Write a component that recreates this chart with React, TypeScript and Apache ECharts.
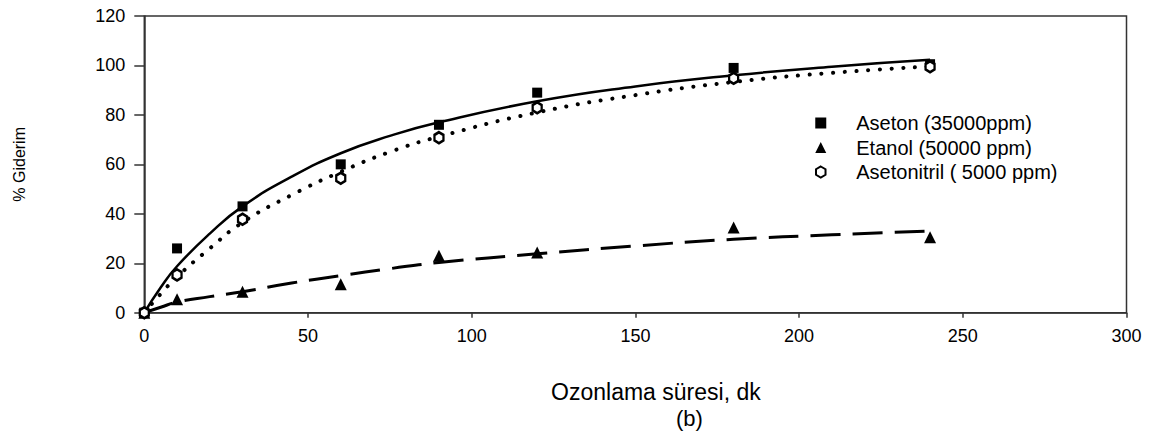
import React, { useEffect, useRef } from "react";
import * as echarts from "echarts";

// Measured data (ozonation time in minutes, % removal)
const timeMin = [0, 10, 30, 60, 90, 120, 180, 240];
const asetonPct = [0, 26, 43, 60, 76, 89, 99, 100.5];
const etanolPct = [0, 5.4, 8.5, 11.5, 23, 24.3, 34.5, 30.5];
const asetonitrilPct = [0, 15.3, 37.8, 54.4, 70.8, 82.9, 94.8, 99.5];

// Trend lines
const trendX = [0, 5, 10, 20, 30, 45, 60, 75, 90, 120, 150, 180, 210, 240];
const asetonFit = [0, 10.2, 18.8, 32, 43, 55, 64.5, 71.5, 77, 85.5, 91.5, 96, 99.5, 102.3];
const asetonitrilFit = [0, 7.6, 14.5, 26, 36.5, 47.6, 57, 65, 71.2, 81, 88, 93.3, 97, 99.6];
const etanolFit = [0, 2.2, 4.3, 6.5, 8.5, 12, 15, 17.8, 20.3, 23.8, 27, 29.7, 31.5, 33];

const seriesNames = ["Aseton (35000ppm)", "Etanol (50000 ppm)", "Asetonitril ( 5000 ppm)"];
const xTicks = { min: 0, max: 300, interval: 50 };
const yTicks = { min: 0, max: 120, interval: 20 };

const HEX = "path://M0,-1 L0.866,-0.5 L0.866,0.5 L0,1 L-0.866,0.5 L-0.866,-0.5 Z";
const FONT = "Liberation Sans, Arial, sans-serif";

const pair = (xs: number[], ys: number[]) => xs.map((x, i) => [x, ys[i]]);

export default function App() {
  const ref = useRef<HTMLDivElement>(null);
  useEffect(() => {
    document.body.style.margin = "0";
    const chart = echarts.init(ref.current!, null, { renderer: "svg" });
    const fitLine = (name: string, ys: number[], ls: any) => ({
      name,
      type: "line",
      data: pair(trendX, ys),
      smooth: true,
      showSymbol: false,
      symbol: "none",
      silent: true,
      z: 1,
      lineStyle: { color: "#000", ...ls },
    });
    chart.setOption({
      animation: false,
      backgroundColor: "#fff",
      textStyle: { fontFamily: FONT },
      grid: { left: 144.3, right: 23.5, top: 16, bottom: 123.3, show: true, borderColor: "#333", borderWidth: 1.5 },
      legend: {
        data: [
          { name: seriesNames[0], icon: "rect" },
          { name: seriesNames[1], icon: "triangle" },
          { name: seriesNames[2], icon: HEX },
        ],
        orient: "vertical",
        left: 810,
        top: 108,
        itemWidth: 11,
        itemHeight: 11,
        itemGap: 4.5,
        textStyle: { fontSize: 20, color: "#000", fontFamily: FONT, lineHeight: 20, padding: [0, 0, 0, 25] },
      },
      xAxis: {
        type: "value",
        min: xTicks.min,
        max: xTicks.max,
        interval: xTicks.interval,
        name: "Ozonlama süresi, dk",
        nameLocation: "middle",
        nameGap: 68,
        nameTextStyle: { fontSize: 23, color: "#000", fontFamily: FONT, padding: [0, 0, 0, 41] },
        axisLine: { lineStyle: { color: "#333", width: 1.5 } },
        axisTick: { show: true, length: 5, lineStyle: { color: "#333", width: 1.5 } },
        axisLabel: { fontSize: 18, color: "#000", margin: 14, fontFamily: FONT },
        splitLine: { show: false },
      },
      yAxis: {
        type: "value",
        min: yTicks.min,
        max: yTicks.max,
        interval: yTicks.interval,
        name: "% Giderim",
        nameLocation: "middle",
        nameGap: 117,
        nameTextStyle: { fontSize: 16, color: "#000", fontFamily: FONT },
        axisLine: { show: true, lineStyle: { color: "#333", width: 1.5 } },
        axisTick: { show: true, length: 10, lineStyle: { color: "#333", width: 1.5 } },
        axisLabel: { fontSize: 18, color: "#000", margin: 19, fontFamily: FONT },
        splitLine: { show: false },
      },
      graphic: [
        {
          type: "text",
          left: 676,
          top: 407,
          style: { text: "(b)", fontSize: 22, fill: "#000", fontFamily: FONT },
        },
      ],
      series: [
        fitLine("fit-aseton", asetonFit, { width: 2.5, type: "solid" }),
        fitLine("fit-etanol", etanolFit, { width: 3, type: [30, 12] }),
        fitLine("fit-asetonitril", asetonitrilFit, { width: 4, type: [0.1, 11.6], cap: "round" }),
        {
          name: seriesNames[0],
          type: "scatter",
          data: pair(timeMin, asetonPct),
          symbol: "rect",
          symbolSize: 10,
          itemStyle: { color: "#000", opacity: 1 },
          z: 3,
        },
        {
          name: seriesNames[1],
          type: "scatter",
          data: pair(timeMin, etanolPct),
          symbol: "triangle",
          symbolSize: 12,
          itemStyle: { color: "#000", opacity: 1 },
          z: 3,
        },
        {
          name: seriesNames[2],
          type: "scatter",
          data: pair(timeMin, asetonitrilPct),
          symbol: HEX,
          symbolSize: [9, 11],
          itemStyle: { color: "#fff", borderColor: "#000", borderWidth: 2.5, opacity: 1 },
          z: 4,
        },
      ],
    });
    return () => chart.dispose();
  }, []);
  return <div ref={ref} style={{ width: 1150, height: 436 }} />;
}
